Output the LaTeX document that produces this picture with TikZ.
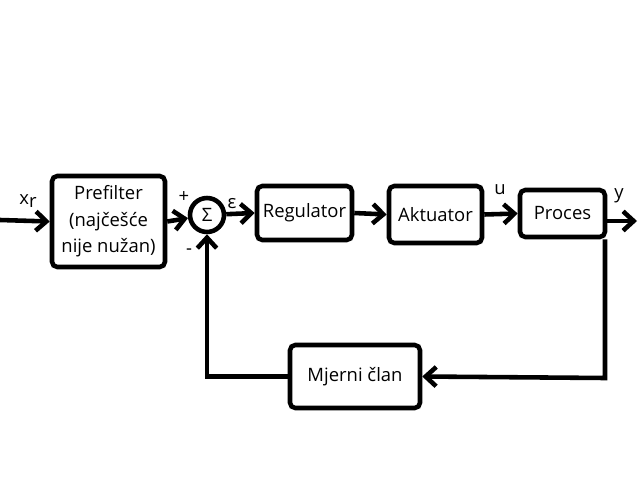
\documentclass[tikz,border=0pt]{standalone}
\usepackage{fontspec}
\setmainfont{Open Sans}
\usetikzlibrary{arrows.meta}
\begin{document}
\begin{tikzpicture}[x=0.02cm,y=-0.02cm,line width=2.6pt,
	blok/.style={draw,rounded corners=3pt,align=center,inner sep=0pt,font=\fontsize{10.5}{15}\selectfont},
	strelica/.style={-{Straight Barb[length=6pt,width=11pt,line width=2.6pt]}},
	oznaka/.style={font=\fontsize{10.5}{12}\selectfont}]
	\useasboundingbox (0,0) rectangle (640,480);
	% blokovi
	\node[blok,minimum width=2.26cm,minimum height=1.82cm] (prefilter) at (108.5,221.5) {Prefilter\\(najčešće\\nije nužan)};
	\node[draw,circle,minimum size=0.68cm,inner sep=0pt,font=\fontsize{10.5}{12}\selectfont] (suma) at (207,215) {Σ};
	\node[blok,minimum width=1.9cm,minimum height=1.08cm] (regulator) at (304.5,213) {Regulator};
	\node[blok,minimum width=1.86cm,minimum height=1.14cm] (aktuator) at (435.5,214.5) {Aktuator};
	\node[blok,minimum width=1.7cm,minimum height=0.94cm] (proces) at (562.5,213.5) {Proces};
	\node[blok,minimum width=2.6cm,minimum height=1.26cm] (mjerni) at (355,376.5) {Mjerni član};
	\coordinate (ulaz) at (0,220);
	\coordinate (izlaz) at (637,221);
	\coordinate (povrat) at (605,378);
	% veze
	\draw[strelica] (ulaz) -- (prefilter.west);
	\draw[strelica] (prefilter.east) -- (suma);
	\draw[strelica] (suma) -- (regulator.west);
	\draw[strelica] (regulator.east) -- (aktuator.west);
	\draw[strelica] (aktuator.east) -- (proces.west);
	\draw[strelica] (proces.east |- izlaz) -- (izlaz);
	\draw[strelica] (proces.south -| povrat) -- (povrat) -- (mjerni.east);
	\draw[strelica] (mjerni.west) -| (suma.south);
	% oznake
	\node[oznaka] (xr) at (28,201) {x{\raisebox{-.25ex}{r}}};
	\node[oznaka] (plus) at (184,197) {+};
	\node[oznaka] (minus) at (189,252) {-};
	\node[oznaka] (eps) at (232,204) {ε};
	\node[oznaka] (u) at (500,190) {u};
	\node[oznaka] (y) at (619,196) {y};
\end{tikzpicture}
\end{document}
